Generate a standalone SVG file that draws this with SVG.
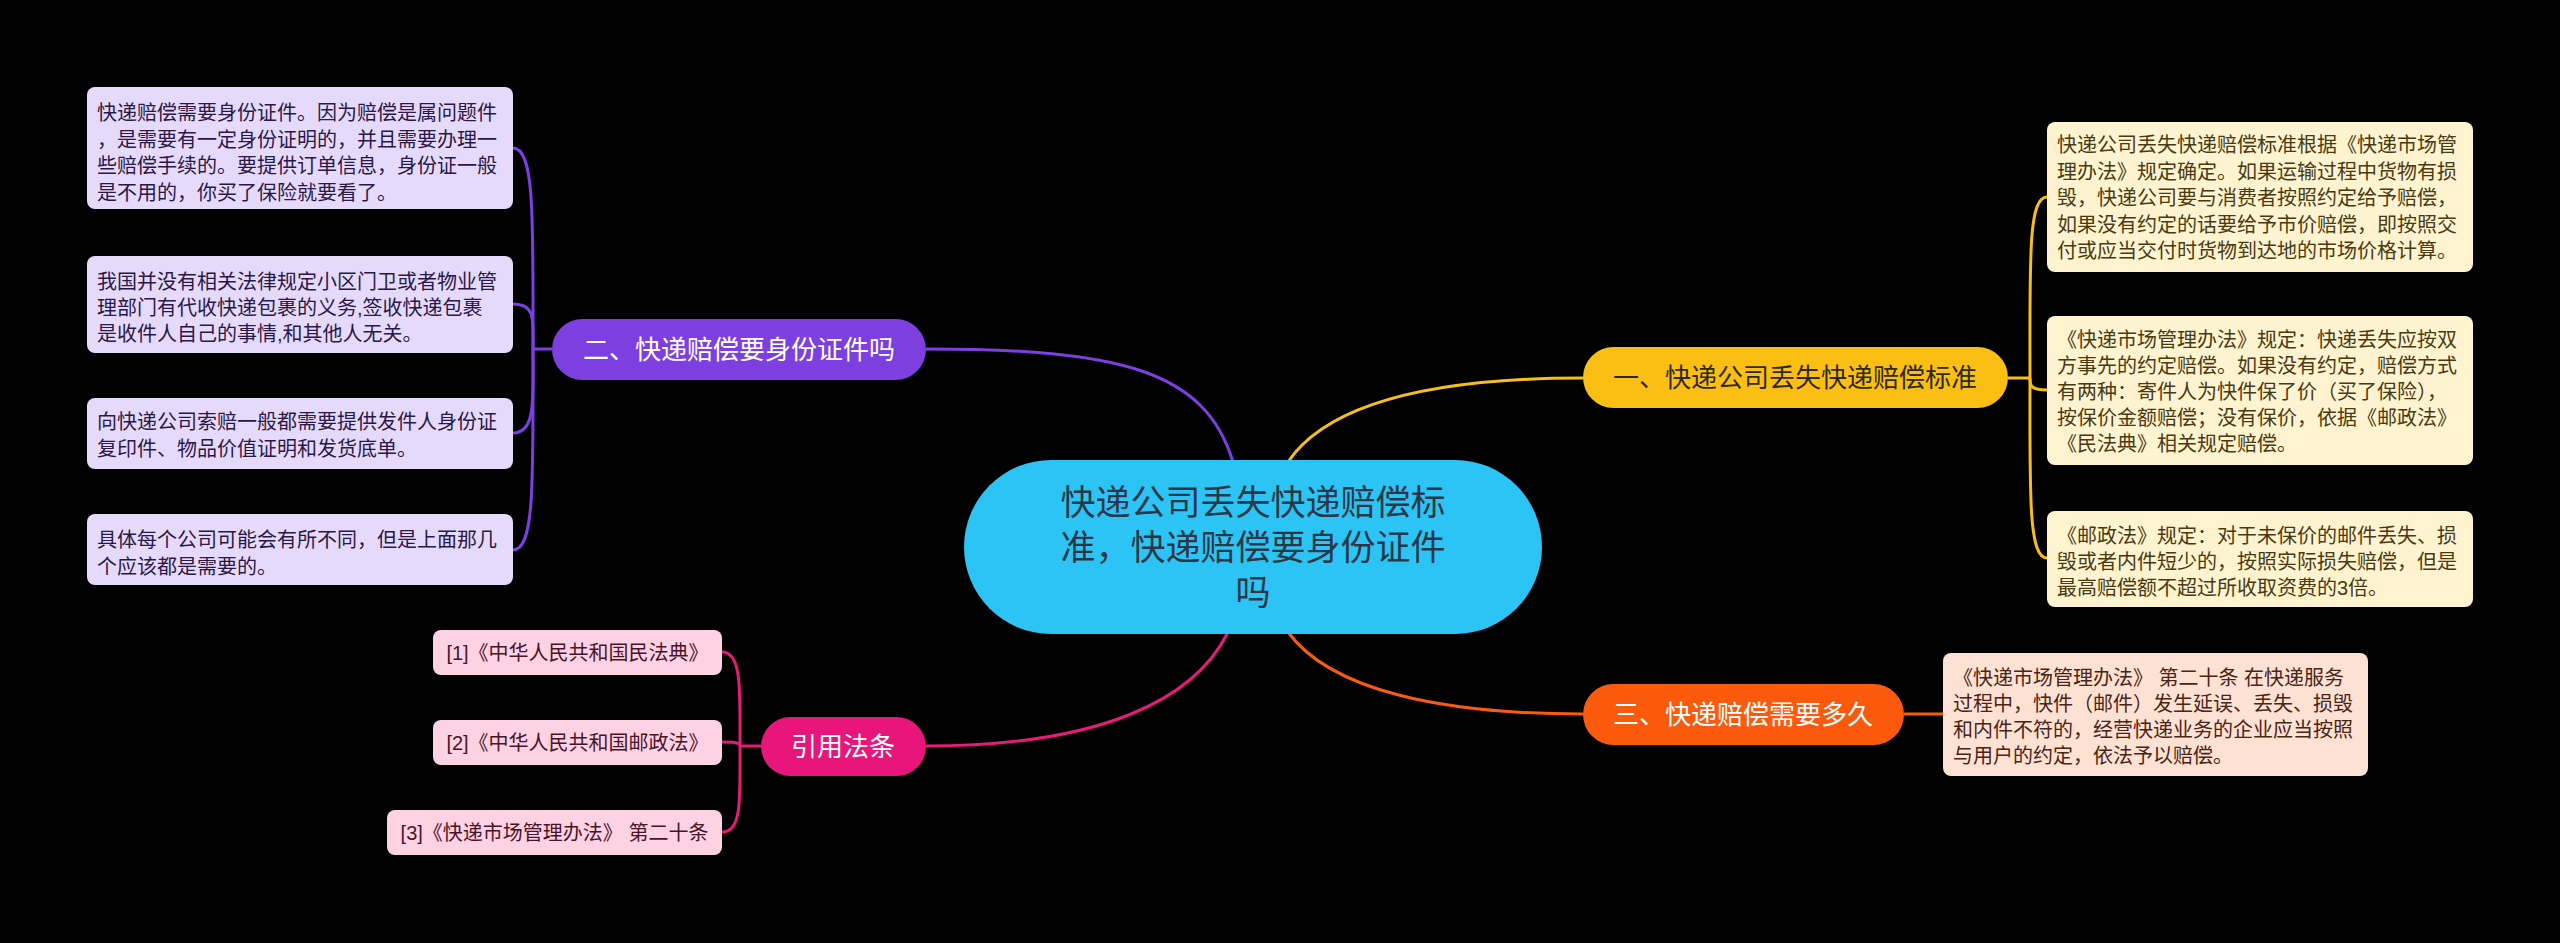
<svg xmlns="http://www.w3.org/2000/svg" width="2560" height="943" viewBox="0 0 2560 943">
<style>
text{font-family:"Liberation Sans","Noto Sans CJK SC",sans-serif;dominant-baseline:central}
.c{fill:none;stroke-width:3}
.leaf{font-size:20px}
.lp rect{fill:#e6dafb}
.lp text{fill:#2a1848}
.ly rect{fill:#fff3d0}
.ly text{fill:#4a3a12}
.lo rect{fill:#fde1d3}
.lo text{fill:#4a2414}
.lk rect{fill:#fdd2e3}
.lk text{fill:#4a1428}
.br text{font-size:26px;text-anchor:middle}
</style>
<rect width="2560" height="943" fill="#000"/>
<g id="connectors">
<path class="c" stroke="#7e3fe0" d="M926 349 C1120 349 1205 370 1233 462"/>
<path class="c" stroke="#f6bd1c" d="M1288 462 C1330 400 1440 378 1583 378"/>
<path class="c" stroke="#f85c10" d="M1288 632 C1330 690 1440 714 1583 714"/>
<path class="c" stroke="#e51a7a" d="M1228 632 C1195 700 1100 746 926 746"/>
<g stroke="#7e3fe0" class="c">
<path d="M552 349 H533"/>
<path d="M533 349 C533 220 535 148 513 148"/>
<path d="M533 349 C533 320 536 304 513 304"/>
<path d="M533 349 C533 400 536 433 513 433"/>
<path d="M533 349 C533 480 535 550 513 550"/>
</g>
<g stroke="#f6bd1c" class="c">
<path d="M2008 378 H2030"/>
<path d="M2030 378 C2030 260 2028 197 2047 197"/>
<path d="M2030 378 C2030 385 2030 390 2047 390"/>
<path d="M2030 378 C2030 490 2028 558 2047 558"/>
</g>
<path class="c" stroke="#f85c10" d="M1904 714 H1943"/>
<g stroke="#e51a7a" class="c">
<path d="M761 746 H740"/>
<path d="M740 746 C740 690 742 652 722 652"/>
<path d="M740 746 C740 744 740 742 722 742"/>
<path d="M740 746 C740 800 742 832 722 832"/>
</g>
</g>
<g id="center">
<rect x="964" y="460" width="578" height="174" rx="87" fill="#2cc4f4"/>
<text font-size="35" fill="#283848" text-anchor="middle"><tspan x="1253" y="502">快递公司丢失快递赔偿标</tspan><tspan x="1253" y="547">准，快递赔偿要身份证件</tspan><tspan x="1253" y="592">吗</tspan></text>
</g>
<g id="branch1" class="br">
<rect x="1583" y="347" width="425" height="61" rx="30.5" fill="#fbbf14"/>
<text x="1795" y="378" fill="#2e2a1a">一、快递公司丢失快递赔偿标准</text>
</g>
<g id="branch2" class="br">
<rect x="552" y="319" width="374" height="61" rx="30.5" fill="#7e3fe0"/>
<text x="739" y="350" fill="#fff">二、快递赔偿要身份证件吗</text>
</g>
<g id="branch3" class="br">
<rect x="1583" y="684" width="321" height="61" rx="30.5" fill="#fb5a0c"/>
<text x="1743" y="715" fill="#fff">三、快递赔偿需要多久</text>
</g>
<g id="branch4" class="br">
<rect x="761" y="717" width="165" height="59" rx="29.5" fill="#e8167a"/>
<text x="843" y="747" fill="#fff">引用法条</text>
</g>
<g id="leaf-l1" class="leaf lp">
<rect x="87" y="87" width="426" height="122" rx="8"/>
<text x="97" y="113">快递赔偿需要身份证件。因为赔偿是属问题件</text>
<text x="97" y="139.5">，是需要有一定身份证明的，并且需要办理一</text>
<text x="97" y="166">些赔偿手续的。要提供订单信息，身份证一般</text>
<text x="97" y="192.5">是不用的，你买了保险就要看了。</text>
</g>
<g id="leaf-l2" class="leaf lp">
<rect x="87" y="256" width="426" height="97" rx="8"/>
<text x="97" y="281.5">我国并没有相关法律规定小区门卫或者物业管</text>
<text x="97" y="307.5">理部门有代收快递包裹的义务,签收快递包裹</text>
<text x="97" y="334">是收件人自己的事情,和其他人无关。</text>
</g>
<g id="leaf-l3" class="leaf lp">
<rect x="87" y="398" width="426" height="71" rx="8"/>
<text x="97" y="422">向快递公司索赔一般都需要提供发件人身份证</text>
<text x="97" y="449">复印件、物品价值证明和发货底单。</text>
</g>
<g id="leaf-l4" class="leaf lp">
<rect x="87" y="514" width="426" height="71" rx="8"/>
<text x="97" y="540">具体每个公司可能会有所不同，但是上面那几</text>
<text x="97" y="567">个应该都是需要的。</text>
</g>
<g id="leaf-r1" class="leaf ly">
<rect x="2047" y="122" width="426" height="150" rx="8"/>
<text x="2057" y="145">快递公司丢失快递赔偿标准根据《快递市场管</text>
<text x="2057" y="171.5">理办法》规定确定。如果运输过程中货物有损</text>
<text x="2057" y="198">毁，快递公司要与消费者按照约定给予赔偿，</text>
<text x="2057" y="224.5">如果没有约定的话要给予市价赔偿，即按照交</text>
<text x="2057" y="250.5">付或应当交付时货物到达地的市场价格计算。</text>
</g>
<g id="leaf-r2" class="leaf ly">
<rect x="2047" y="316" width="426" height="149" rx="8"/>
<text x="2057" y="340">《快递市场管理办法》规定：快递丢失应按双</text>
<text x="2057" y="366">方事先的约定赔偿。如果没有约定，赔偿方式</text>
<text x="2057" y="392">有两种：寄件人为快件保了价（买了保险），</text>
<text x="2057" y="418">按保价金额赔偿；没有保价，依据《邮政法》</text>
<text x="2057" y="443.5">《民法典》相关规定赔偿。</text>
</g>
<g id="leaf-r3" class="leaf ly">
<rect x="2047" y="511" width="426" height="96" rx="8"/>
<text x="2057" y="535.5">《邮政法》规定：对于未保价的邮件丢失、损</text>
<text x="2057" y="561.5">毁或者内件短少的，按照实际损失赔偿，但是</text>
<text x="2057" y="588">最高赔偿额不超过所收取资费的3倍。</text>
</g>
<g id="leaf-o1" class="leaf lo">
<rect x="1943" y="653" width="425" height="123" rx="8"/>
<text x="1953" y="678">《快递市场管理办法》 第二十条 在快递服务</text>
<text x="1953" y="704">过程中，快件（邮件）发生延误、丢失、损毁</text>
<text x="1953" y="730">和内件不符的，经营快递业务的企业应当按照</text>
<text x="1953" y="755.5">与用户的约定，依法予以赔偿。</text>
</g>
<g id="cite1" class="leaf lk">
<rect x="433" y="630" width="289" height="45" rx="8"/>
<text x="577.5" y="652.5" text-anchor="middle">[1]《中华人民共和国民法典》</text>
</g>
<g id="cite2" class="leaf lk">
<rect x="433" y="720" width="289" height="45" rx="8"/>
<text x="577.5" y="742.5" text-anchor="middle">[2]《中华人民共和国邮政法》</text>
</g>
<g id="cite3" class="leaf lk">
<rect x="387" y="810" width="335" height="45" rx="8"/>
<text x="554.5" y="832.5" text-anchor="middle">[3]《快递市场管理办法》 第二十条</text>
</g>
</svg>
